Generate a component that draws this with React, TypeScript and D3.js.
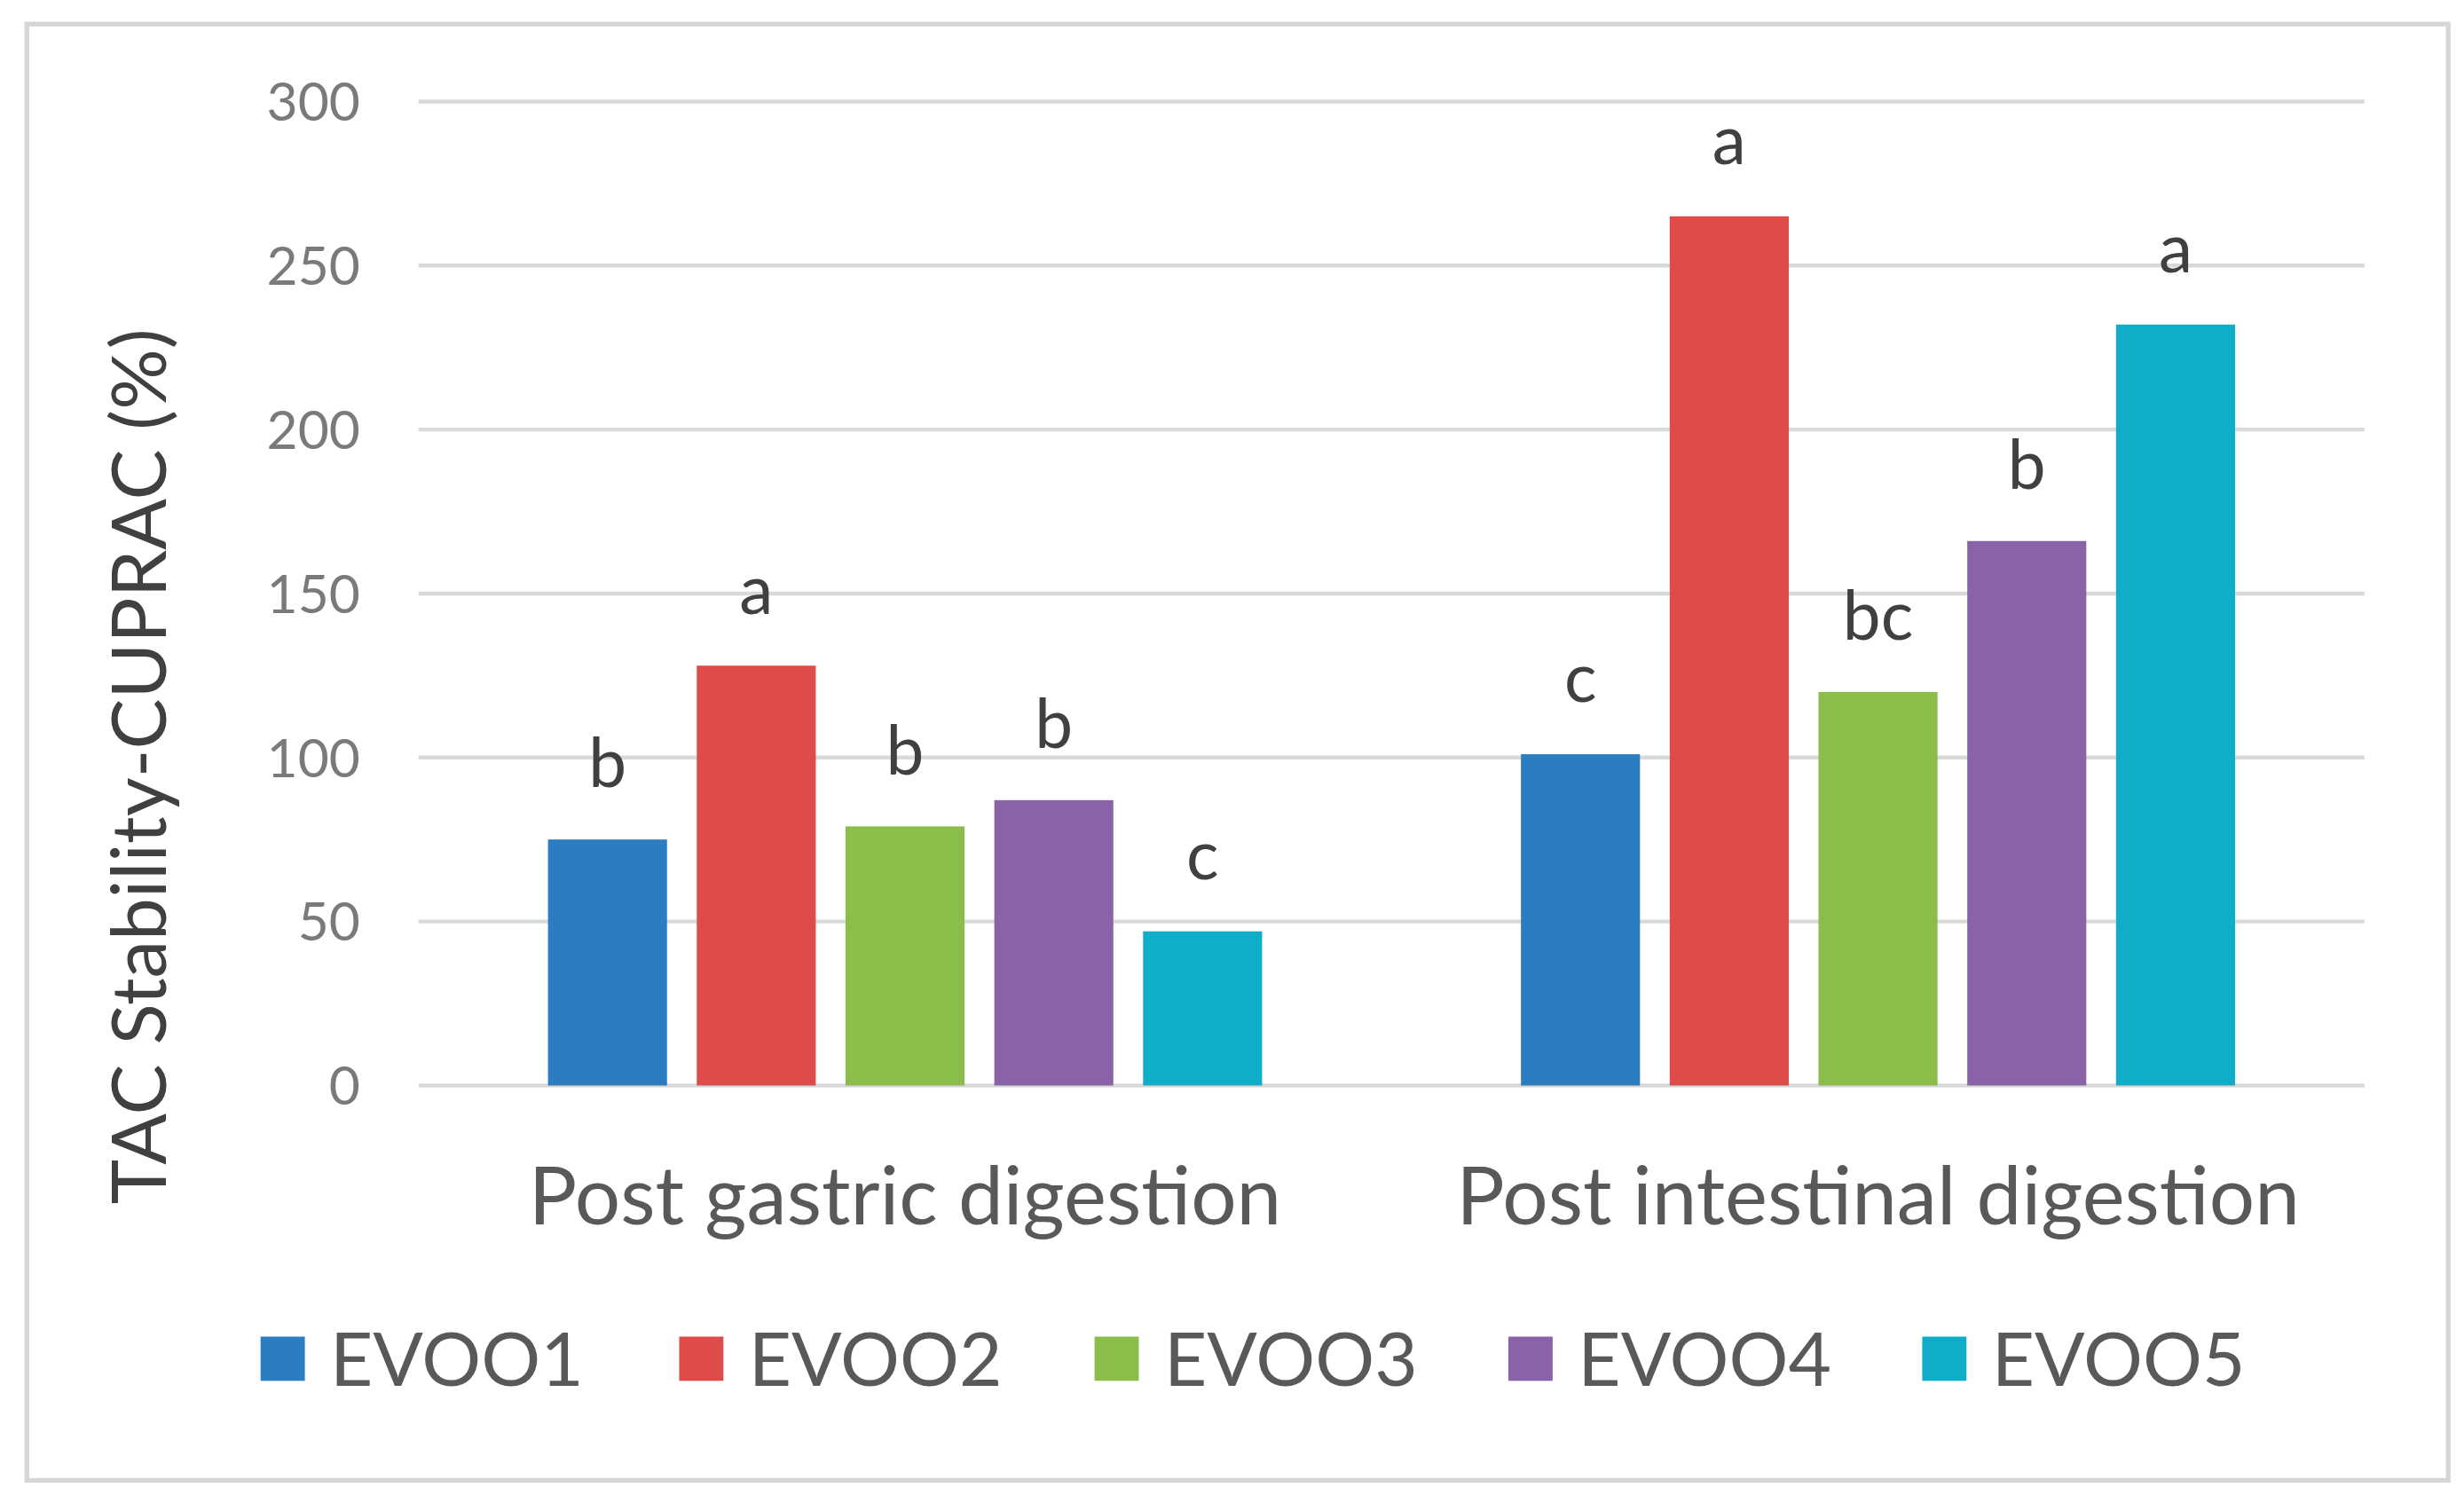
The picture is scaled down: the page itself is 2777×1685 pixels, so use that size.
import React, { useEffect, useRef } from 'react';
import * as d3 from 'd3';

const groups = ['Post gastric digestion', 'Post intestinal digestion'];
const seriesNames = ['EVOO1', 'EVOO2', 'EVOO3', 'EVOO4', 'EVOO5'];
const colors = ['#2b7cc0', '#de4b4a', '#8bbd4b', '#8962a8', '#0fadc7'];

// values per series: [gastric, intestinal]
const gastricValues = [75, 128, 79, 87, 47];
const intestinalValues = [101, 265, 120, 166, 232];
const gastricLetters = ['b', 'a', 'b', 'b', 'c'];
const intestinalLetters = ['c', 'a', 'bc', 'b', 'a'];

const yTicks = [0, 50, 100, 150, 200, 250, 300];

const W = 1560;
const H = 946;
const FONT = 'Lato, "Open Sans", sans-serif';

const App: React.FC = () => {
  const svgRef = useRef<SVGSVGElement>(null);

  useEffect(() => {
    if (!svgRef.current) return;
    const svg = d3.select(svgRef.current);
    svg.selectAll('*').remove();

    svg.append('rect')
      .attr('x', 0).attr('y', 0).attr('width', W).attr('height', H)
      .attr('fill', '#ffffff');

    svg.append('rect')
      .attr('x', 17).attr('y', 15).attr('width', 1533).attr('height', 922)
      .attr('fill', 'none')
      .attr('stroke', '#d6d6d6')
      .attr('stroke-width', 3);

    const left = 265;
    const right = 1497;
    const top = 64;
    const bottom = 687;

    const y = d3.scaleLinear().domain([0, 300]).range([bottom, top]);
    const x0 = d3.scaleBand<string>().domain(groups).range([left, right]).paddingInner(0).paddingOuter(0);
    const x1 = d3.scaleBand<string>()
      .domain(seriesNames)
      .range([0, x0.bandwidth()])
      .paddingInner(0.2)
      .paddingOuter(0.87);

    // gridlines
    svg.append('g')
      .selectAll('line')
      .data(yTicks)
      .join('line')
      .attr('x1', left)
      .attr('x2', right)
      .attr('y1', d => y(d))
      .attr('y2', d => y(d))
      .attr('stroke', '#d9d9d9')
      .attr('stroke-width', 2.5);

    // tick labels
    svg.append('g')
      .selectAll('text')
      .data(yTicks)
      .join('text')
      .attr('x', 228)
      .attr('y', d => y(d))
      .attr('dy', '0.36em')
      .attr('text-anchor', 'end')
      .attr('fill', '#7a7a7a')
      .attr('font-family', FONT)
      .attr('font-size', 34)
      .text(d => d);

    const data = [
      { group: groups[0], values: gastricValues, letters: gastricLetters },
      { group: groups[1], values: intestinalValues, letters: intestinalLetters },
    ];

    data.forEach(gd => {
      const g = svg.append('g').attr('transform', `translate(${x0(gd.group)},0)`);
      g.selectAll('rect')
        .data(seriesNames)
        .join('rect')
        .attr('x', d => x1(d)!)
        .attr('width', x1.bandwidth())
        .attr('y', (d, i) => y(gd.values[i]))
        .attr('height', (d, i) => bottom - y(gd.values[i]))
        .attr('fill', (d, i) => colors[i]);

      g.selectAll('text')
        .data(seriesNames)
        .join('text')
        .attr('x', d => x1(d)! + x1.bandwidth() / 2)
        .attr('y', (d, i) => y(gd.values[i]) - 33)
        .attr('text-anchor', 'middle')
        .attr('fill', '#404040')
        .attr('font-family', FONT)
        .attr('font-size', 43)
        .text((d, i) => gd.letters[i]);

      svg.append('text')
        .attr('x', x0(gd.group)! + x0.bandwidth() / 2)
        .attr('y', 775)
        .attr('text-anchor', 'middle')
        .attr('fill', '#595959')
        .attr('font-family', FONT)
        .attr('font-size', 51)
        .text(gd.group);
    });

    // y axis title
    svg.append('text')
      .attr('transform', `translate(105,485) rotate(-90)`)
      .attr('text-anchor', 'middle')
      .attr('fill', '#404040')
      .attr('font-family', FONT)
      .attr('font-size', 48)
      .text('TAC Stability-CUPRAC (%)');

    // legend
    const legendX = [165, 430, 693, 955, 1217];
    const lg = svg.append('g');
    seriesNames.forEach((name, i) => {
      lg.append('rect')
        .attr('x', legendX[i])
        .attr('y', 846)
        .attr('width', 28)
        .attr('height', 28)
        .attr('fill', colors[i]);
      lg.append('text')
        .attr('x', legendX[i] + 44)
        .attr('y', 877)
        .attr('fill', '#595959')
        .attr('font-family', FONT)
        .attr('font-size', 47)
        .text(name);
    });
  }, []);

  return (
    <svg
      ref={svgRef}
      width={2777}
      height={1685}
      viewBox={`0 0 ${W} ${H}`}
      style={{ position: 'absolute', left: 0, top: 0 }}
    />
  );
};

export default App;
